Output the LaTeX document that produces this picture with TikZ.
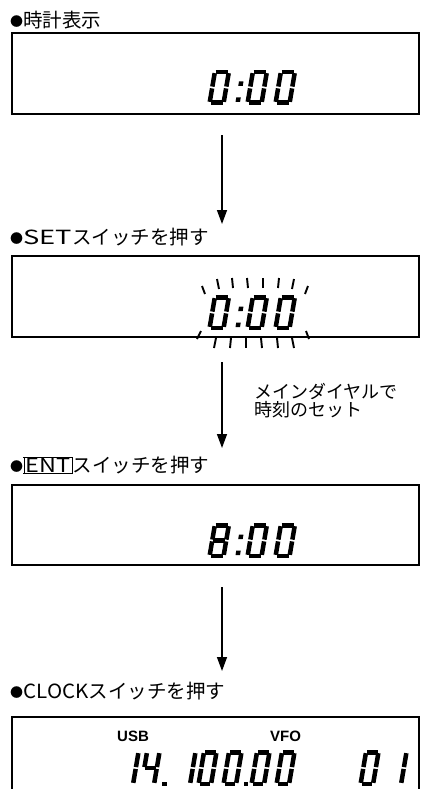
\documentclass[tikz,border=0pt]{standalone}
\usepackage{fontspec}
\usepackage{graphicx}
\newfontfamily\jp{Noto Sans CJK JP}
\newfontfamily\lab{Liberation Sans}
\usetikzlibrary{arrows.meta}
\newcommand\bul{\raisebox{0.8pt}{\fontsize{13pt}{13pt}\selectfont ●}\kern0.3pt}
\newcommand\widelat[2]{\scalebox{#1}[1]{#2}}
\newcommand\lcdsegA{\draw[lcd] ({\lt/2+\lg},{-\lh+\lt/2}) -- ({\lw-\lt/2-\lg},{-\lh+\lt/2});}
\newcommand\lcdsegB{\draw[lcd] ({\lw-\lt/2},{-\lh+\lt/2+\lg}) -- ({\lw-\lt/2},{-\lh/2-\lg});}
\newcommand\lcdsegC{\draw[lcd] ({\lw-\lt/2},{-\lh/2+\lg}) -- ({\lw-\lt/2},{-\lt/2-\lg});}
\newcommand\lcdsegD{\draw[lcd] ({\lt/2+\lg},{-\lt/2}) -- ({\lw-\lt/2-\lg},{-\lt/2});}
\newcommand\lcdsegE{\draw[lcd] ({\lt/2},{-\lh/2+\lg}) -- ({\lt/2},{-\lt/2-\lg});}
\newcommand\lcdsegF{\draw[lcd] ({\lt/2},{-\lh+\lt/2+\lg}) -- ({\lt/2},{-\lh/2-\lg});}
\newcommand\lcdsegG{\draw[lcd] ({\lt/2+\lg},{-\lh/2}) -- ({\lw-\lt/2-\lg},{-\lh/2});}
\newcommand\lcddig[3]{\begin{scope}[shift={(#1,#2)},xslant=0.17]
  \foreach \s in {#3}{\csname lcdseg\s\endcsname}\end{scope}}
\newcommand\lcdcolon[2]{\begin{scope}[shift={(#1,#2)},xslant=0.17]
  \fill (0,-3) rectangle (4.5,-7.5); \fill (0,-19) rectangle (4.5,-23.5);\end{scope}}
\newcommand\lcdpoint[2]{\fill (#1,#2) rectangle ++(4.5,-4.5);}
\begin{document}
\begin{tikzpicture}[x=1pt,y=-1pt,
  frame/.style={line width=1.8pt},
  arr/.style={line width=1.4pt,-{Triangle[length=14pt,width=10pt]}},
  title/.style={anchor=west,inner sep=0pt,font=\jp\fontsize{19.5pt}{22pt}\selectfont},
  lcd/.style={line width=\lt pt,line cap=butt},
  tick/.style={line width=1.9pt},
  seven/.style={font=\lab\bfseries\fontsize{15pt}{15pt}\selectfont,anchor=west,inner sep=0pt}]
\useasboundingbox (0,0) rectangle (422,789);
\fill[white] (0,0) rectangle (422,789);
\def\lt{4.5}\def\lg{0.9}\def\lw{18.5}\def\lh{35}
% ---------- step 1
\node[title] (t1) at (10,20) {\bul 時計表示};
\draw[frame] (12,33) rectangle (419,114);
\lcddig{207}{105}{A,B,C,D,E,F}
\lcdcolon{235}{105}
\lcddig{245}{105}{A,B,C,D,E,F}
\lcddig{273}{105}{A,B,C,D,E,F}
\coordinate (a1s) at (222,135);
\coordinate (a1e) at (222,224);
\draw[arr] (a1s) -- (a1e);
% ---------- step 2
\node[title] (t2) at (10,237) {\bul\widelat{1.4}{SET}スイッチを押す};
\draw[frame] (12,256) rectangle (419,337);
\lcddig{207}{330}{A,B,C,D,E,F}
\lcdcolon{235}{330}
\lcddig{245}{330}{A,B,C,D,E,F}
\lcddig{273}{330}{A,B,C,D,E,F}
\foreach \ax/\ay/\bx/\by in {205/294/202/286, 219/289/217/279, 233/288/232/278, 248/288/247/278,
  263/288/263/278, 278/288/279/278, 292/289/294/279, 305/294/308/286,
  201/331/197/339, 216/338/214/348, 231/338/230/348, 246/338/246/348,
  261/338/262/348, 277/338/278/348, 292/338/294/348, 306/331/309/339}
  {\draw[tick] (\ax,\ay) -- (\bx,\by);}
\coordinate (a2s) at (222,362);
\coordinate (a2e) at (222,448);
\draw[arr] (a2s) -- (a2e);
\node[anchor=north west,align=left,inner sep=0pt,font=\jp\fontsize{18pt}{18.5pt}\selectfont] (lbl) at (254,383) {メインダイヤルで\\時刻のセット};
% ---------- step 3
\node[title] (t3) at (10,465) {\bul{\setlength\fboxsep{0.6pt}\setlength\fboxrule{0.7pt}\fbox{\kern1pt\widelat{1.2}{ENT}\kern1pt}}スイッチを押す};
\draw[frame] (12,485) rectangle (419,565);
\lcddig{207}{558}{A,B,C,D,E,F,G}
\lcdcolon{235}{558}
\lcddig{245}{558}{A,B,C,D,E,F}
\lcddig{273}{558}{A,B,C,D,E,F}
\coordinate (a3s) at (222,587);
\coordinate (a3e) at (222,671);
\draw[arr] (a3s) -- (a3e);
% ---------- step 4
\node[title] (t4) at (10,691) {\bul\widelat{1.05}{CLOCK}スイッチを押す};
\draw[frame] (12,795) -- (12,717) -- (419,717) -- (419,795);
\node[seven] (usb) at (117,736) {USB};
\node[seven] (vfo) at (270,736) {VFO};
\def\lw{17}\def\lh{36}
\lcddig{118}{786}{B,C}
\lcddig{139}{786}{B,C,F,G}
\lcdpoint{162}{786}
\lcddig{175}{786}{B,C}
\lcddig{196}{786}{A,B,C,D,E,F}
\lcddig{221}{786}{A,B,C,D,E,F}
\lcdpoint{243.5}{786}
\lcddig{249}{786}{A,B,C,D,E,F}
\lcddig{274}{786}{A,B,C,D,E,F}
\lcddig{358}{786}{A,B,C,D,E,F}
\lcddig{386}{786}{B,C}
\end{tikzpicture}
\end{document}
